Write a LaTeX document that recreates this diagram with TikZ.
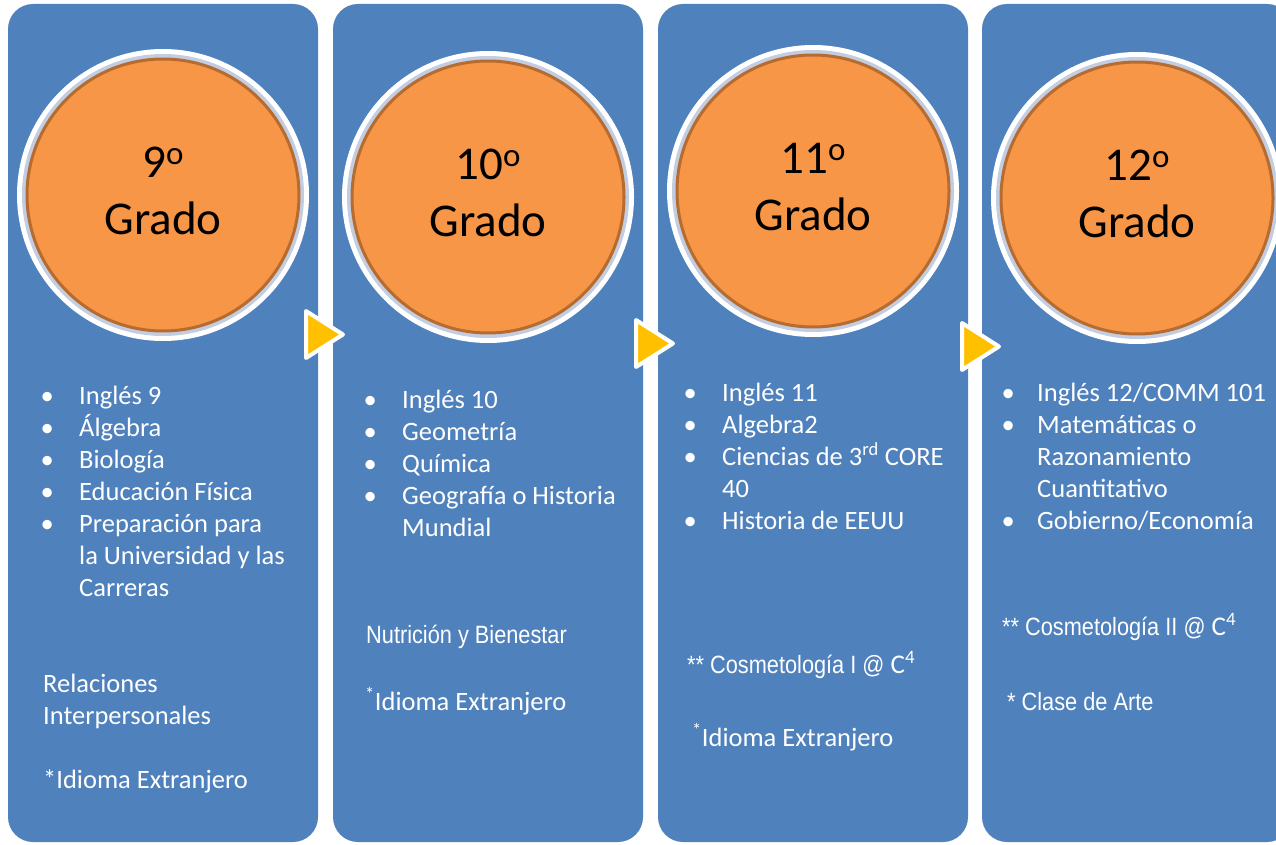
\documentclass[tikz,border=0pt]{standalone}
\usepackage{fontspec}
\setmainfont{Carlito}
\newfontfamily\narrowfont[FakeStretch=0.87]{Liberation Sans}
\usetikzlibrary{calc}

\definecolor{panelblue}{HTML}{4F81BD}
\definecolor{discorange}{HTML}{F79646}
\definecolor{discbrown}{HTML}{B66C30}
\definecolor{ringgrey}{HTML}{C2CDE1}
\definecolor{arrowyellow}{HTML}{FFC000}

\newcommand{\bul}[1][32pt]{\llap{\makebox[0pt]{\textbullet}\hspace{#1}}}
\newcommand{\lines}[1]{\begin{tabular}[t]{@{}l@{}}#1\end{tabular}}
\newcommand{\cfour}{{\rmfamily\fontsize{27}{30}\selectfont C\textsuperscript{4}}}
\newcommand{\ord}{\raisebox{13pt}{\fontsize{33}{33}\selectfont o}}

\tikzset{
  panel/.style={fill=panelblue, rounded corners=25pt, minimum width=310pt, minimum height=838pt, inner sep=0pt},
  ringw/.style={circle, fill=white, minimum size=292pt, inner sep=0pt},
  ringg/.style={circle, fill=ringgrey, minimum size=282pt, inner sep=0pt},
  disc/.style={circle, fill=discorange, draw=discbrown, line width=3pt, minimum size=272pt, inner sep=0pt},
  gradetext/.style={align=center, inner sep=0pt, font=\fontsize{47}{57}\selectfont},
  arrowtri/.style={fill=arrowyellow, draw=white, line width=4pt, line join=round},
  listtext/.style={anchor=base west, inner sep=0pt, text=white, font=\fontsize{26.5}{32}\selectfont},
  narrowtext/.style={listtext, font=\narrowfont\fontsize{25}{30}\selectfont}
}

\begin{document}
\begin{tikzpicture}[x=1pt, y=-1pt]
\useasboundingbox (0,0) rectangle (1276,845);
\clip (0,0) rectangle (1276,845);
\fill[white] (0,0) rectangle (1276,845);

% panels and grade discs
\foreach \i/\x/\y/\g in {1/8/195/9, 2/333/197/10, 3/658/191/11, 4/982/198/12} {
  \node[panel] (p\i) at (\x+155,423) {};
  \node[ringw] (w\i) at (\x+155,\y) {};
  \node[ringg] (r\i) at (w\i) {};
  \node[disc] (d\i) at (w\i) {};
  \node[gradetext] (t\i) at ($(d\i)+(0,-4)$) {\g\ord\\Grado};
}

% arrows between panels
\foreach \j/\tx/\ty in {1/306/311, 2/636/320, 3/962/323} {
  \draw[arrowtri] (\tx,\ty) coordinate (a\j) -- ++(37,23.5) -- ++(-37,23.5) -- cycle;
}

% 9th grade
\node[listtext] (l1) at (79,404) {\lines{\bul Inglés 9\\ \bul Álgebra\\ \bul Biología\\
  \bul Educación Física\\ \bul Preparación para\\ la Universidad y las\\ Carreras}};
\node[listtext] (e1) at (43,692) {\lines{Relaciones\\ Interpersonales}};
\node[listtext] (f1) at (43,788) {*Idioma Extranjero};

% 10th grade
\node[listtext] (l2) at (402,408) {\lines{\bul Inglés 10\\ \bul Geometría\\ \bul Química\\
  \bul Geografía o Historia\\ Mundial}};
\node[narrowtext] (n2) at (366,643) {Nutrición y Bienestar};
\node[listtext] (f2) at (365,710) {\textsuperscript{*}Idioma Extranjero};

% 11th grade
\node[listtext] (l3) at (722,401) {\lines{\bul Inglés 11\\ \bul Algebra2\\
  \bul Ciencias de 3\textsuperscript{rd} CORE\\ 40\\ \bul Historia de EEUU}};
\node[narrowtext] (c3) at (687,673) {** Cosmetología I @ \cfour};
\node[listtext] (f3) at (692,746) {\textsuperscript{*}Idioma Extranjero};

% 12th grade
\node[listtext] (l4) at (1037,401) {\lines{\bul[29pt]Inglés 12/COMM 101\\ \bul[29pt]Matemáticas o\\
  Razonamiento\\ Cuantitativo\\ \bul[29pt]Gobierno/Economía}};
\node[narrowtext] (c4) at (1002,635) {** Cosmetología II @ \cfour};
\node[narrowtext] (k4) at (1007,710) {* Clase de Arte};
\end{tikzpicture}
\end{document}
